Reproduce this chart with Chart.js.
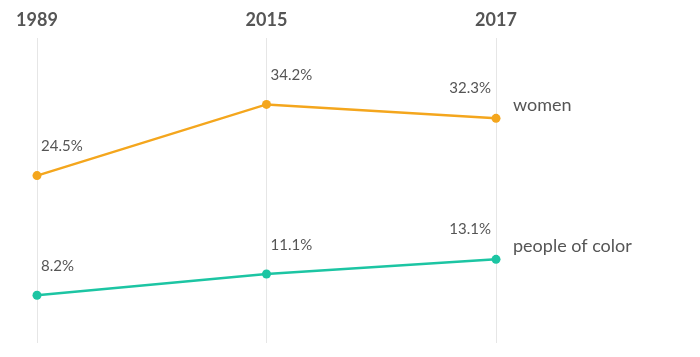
<!DOCTYPE html>
<html>
<head>
<meta charset="utf-8">
<script src="https://cdn.jsdelivr.net/npm/chart.js@4/dist/chart.umd.min.js"></script>
<style>
  html, body { margin: 0; padding: 0; background: #fff; }
  #wrap { width: 700px; height: 357px; position: relative; }
</style>
</head>
<body>
<div id="wrap"><canvas id="c" width="700" height="357"></canvas></div>
<script>
const years = ["1989", "2015", "2017"];
const women = [24.5, 34.2, 32.3];
const peopleOfColor = [8.2, 11.1, 13.1];
const seriesNames = ["women", "people of color"];

const FONT = "Lato, 'Open Sans', sans-serif";
const TEXT = "#555555";

const labelPlugin = {
  id: "pointLabels",
  afterDatasetsDraw(chart) {
    const ctx = chart.ctx;
    ctx.save();
    chart.data.datasets.forEach((ds, di) => {
      const meta = chart.getDatasetMeta(di);
      const n = meta.data.length;
      meta.data.forEach((pt, i) => {
        const v = ds.data[i];
        ctx.font = "15px " + FONT;
        ctx.fillStyle = TEXT;
        ctx.textBaseline = "middle";
        const txt = v.toFixed(1) + "%";
        if (i === n - 1) {
          ctx.textAlign = "right";
          ctx.fillText(txt, pt.x - 5, pt.y - 30);
        } else {
          ctx.textAlign = "left";
          ctx.fillText(txt, pt.x + 4, pt.y - 29);
        }
      });
      const last = meta.data[n - 1];
      ctx.font = "18px " + FONT;
      ctx.textAlign = "left";
      ctx.textBaseline = "middle";
      ctx.fillText(ds.label, last.x + 17, last.y - 13);
    });
    ctx.restore();
  }
};

new Chart(document.getElementById("c"), {
  type: "line",
  data: {
    labels: years,
    datasets: [
      {
        label: seriesNames[0],
        data: women,
        borderColor: "#f4a61d",
        backgroundColor: "#f4a61d",
        borderWidth: 2.5,
        pointRadius: 4.5,
        pointBorderWidth: 0,
        tension: 0,
        clip: false
      },
      {
        label: seriesNames[1],
        data: peopleOfColor,
        borderColor: "#1cc5a3",
        backgroundColor: "#1cc5a3",
        borderWidth: 2.5,
        pointRadius: 4.5,
        pointBorderWidth: 0,
        tension: 0,
        clip: false
      }
    ]
  },
  options: {
    responsive: false,
    animation: false,
    devicePixelRatio: 1,
    layout: { padding: { left: 37, right: 204, top: 2, bottom: 14 } },
    plugins: { legend: { display: false }, tooltip: { enabled: false } },
    scales: {
      x: {
        position: "top",
        offset: false,
        grid: { color: "#e6e6e6", lineWidth: 1, drawTicks: false, drawOnChartArea: true },
        border: { display: false },
        ticks: {
          color: TEXT,
          font: { family: FONT, size: 18, weight: "bold" },
          padding: 7,
          maxRotation: 0
        }
      },
      y: {
        display: false,
        min: 1.7,
        max: 43.3
      }
    }
  },
  plugins: [labelPlugin]
});
</script>
</body>
</html>
